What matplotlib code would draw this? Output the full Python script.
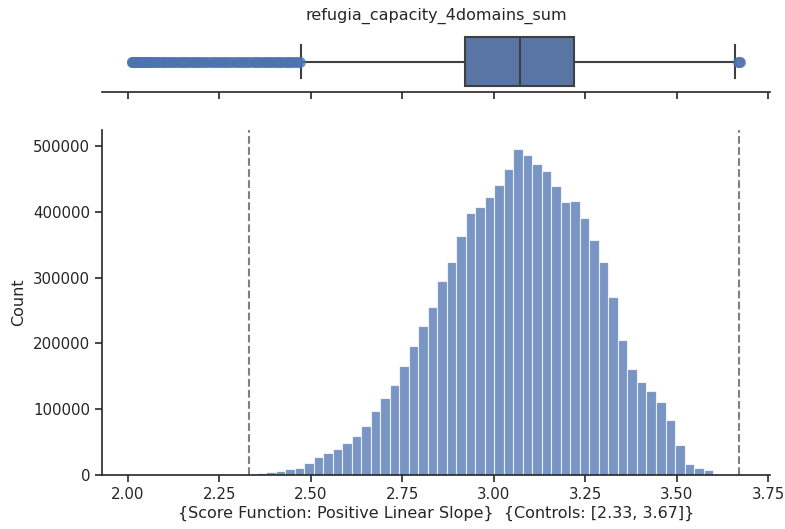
import matplotlib
matplotlib.use("Agg")
import matplotlib.pyplot as plt
import numpy as np

# ---- data ----
bin_start = 2.352
bin_width = 0.02598
counts = [2500, 4000, 6600, 9600, 11100, 18700, 27400, 33400, 39000, 48100,
          59800, 74500, 97300, 116500, 136800, 166200, 196600, 226000, 255300, 294800,
          323700, 363200, 398700, 407300, 422000, 440700, 465600, 495000, 486300, 473200,
          461500, 439200, 414900, 416400, 390100, 357700, 324200, 270000, 205700, 160600,
          141300, 128200, 110900, 83100, 45100, 17200, 11100, 7100]

box_q1 = 2.920
box_median = 3.071
box_q3 = 3.218
whisker_low = 2.474
whisker_high = 3.660
fliers = [2.010, 2.012, 2.014, 2.016, 2.018, 2.020, 2.023, 2.026, 2.029, 2.032,
          2.036, 2.040, 2.044, 2.048, 2.052, 2.056, 2.060, 2.064, 2.068, 2.072,
          2.077, 2.082, 2.087, 2.092, 2.097, 2.102, 2.108, 2.114, 2.120, 2.126,
          2.132, 2.138, 2.144, 2.150, 2.156, 2.162, 2.168, 2.174, 2.180, 2.186,
          2.192, 2.198, 2.204, 2.210, 2.217, 2.224, 2.231, 2.238, 2.245, 2.252,
          2.259, 2.266, 2.273, 2.280, 2.287, 2.294, 2.301, 2.308, 2.315, 2.322,
          2.329, 2.336, 2.343, 2.350, 2.356, 2.362, 2.368, 2.374, 2.380, 2.386,
          2.392, 2.398, 2.404, 2.410, 2.416, 2.422, 2.428, 2.434, 2.440, 2.446,
          2.452, 2.458, 2.464, 2.469, 3.666, 3.670, 3.674]

controls = [2.33, 3.67]
x_ticks = [2.00, 2.25, 2.50, 2.75, 3.00, 3.25, 3.50, 3.75]
y_ticks = [0, 100000, 200000, 300000, 400000, 500000]
title = "refugia_capacity_4domains_sum"
xlabel = "{Score Function: Positive Linear Slope}  {Controls: [2.33, 3.67]}"
ylabel = "Count"

# ---- style ----
plt.rcParams['font.family'] = ['DejaVu Sans']
text_color = '#262626'
spine_color = '#262626'
plt.rcParams['text.color'] = text_color
plt.rcParams['axes.labelcolor'] = text_color
plt.rcParams['xtick.color'] = spine_color
plt.rcParams['ytick.color'] = spine_color

fig = plt.figure(figsize=(7.85, 5.29), dpi=100)
ax_box = fig.add_axes([0.130, 0.826, 0.851, 0.115])
ax = fig.add_axes([0.130, 0.102, 0.851, 0.652])

xlim = (1.929, 3.755)

# histogram
edges = bin_start + bin_width * np.arange(len(counts) + 1)
ax.bar(edges[:-1], counts, width=bin_width, align='edge',
       color='#4c72b0', alpha=0.75, edgecolor='white', linewidth=0.8)
for c in controls:
    ax.axvline(c, color='gray', linestyle='--', linewidth=1.5)
ax.set_xlim(*xlim)
ax.set_ylim(0, 524000)
ax.set_xticks(x_ticks)
ax.set_xticklabels([f"{t:.2f}" for t in x_ticks])
ax.set_yticks(y_ticks)
ax.set_yticklabels([str(t) for t in y_ticks])
ax.set_xlabel(xlabel, fontsize=11.5, labelpad=3)
ax.set_ylabel(ylabel, fontsize=11.5, labelpad=5)
ax.tick_params(axis='both', labelsize=10.8, direction='out', length=5, width=1.2)
for s in ['top', 'right']:
    ax.spines[s].set_visible(False)
for s in ['left', 'bottom']:
    ax.spines[s].set_linewidth(1.2)
    ax.spines[s].set_color(spine_color)

# boxplot
stats = [dict(med=box_median, q1=box_q1, q3=box_q3,
              whislo=whisker_low, whishi=whisker_high, fliers=fliers)]
ax_box.bxp(stats, positions=[0], widths=0.8, vert=False, patch_artist=True,
           capwidths=0.55,
           boxprops=dict(facecolor='#5875a4', edgecolor='#3f3f3f', linewidth=1.5),
           medianprops=dict(color='#3f3f3f', linewidth=1.5),
           whiskerprops=dict(color='#3f3f3f', linewidth=1.5),
           capprops=dict(color='#3f3f3f', linewidth=1.5),
           flierprops=dict(marker='o', markersize=7, markerfacecolor='#4c72b0',
                           markeredgecolor='#4c72b0', alpha=0.6, linestyle='none'))
ax_box.set_xlim(*xlim)
ax_box.set_ylim(0.5, -0.5)
ax_box.set_xticks(x_ticks)
ax_box.set_xticklabels([])
ax_box.set_yticks([])
ax_box.tick_params(axis='x', direction='out', length=5, width=1.2)
for s in ['top', 'right', 'left']:
    ax_box.spines[s].set_visible(False)
ax_box.spines['bottom'].set_linewidth(1.2)
ax_box.spines['bottom'].set_color(spine_color)
ax_box.set_title(title, fontsize=11.5, pad=8)

fig.savefig("out.png", dpi=100)
